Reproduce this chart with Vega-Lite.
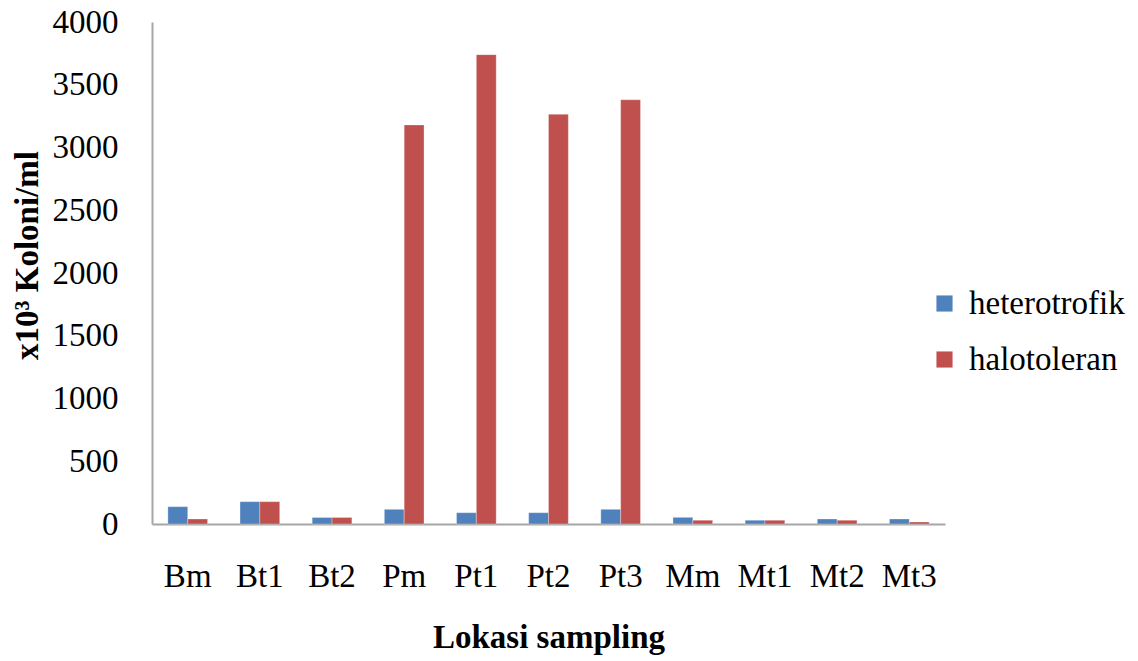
{
  "$schema": "https://vega.github.io/schema/vega-lite/v6.json",
  "width": 793,
  "height": 502,
  "autosize": {"type": "none"},
  "padding": {"left": 152, "top": 22, "right": 193, "bottom": 137},
  "background": "white",
  "config": {
    "view": {"stroke": null},
    "font": "Liberation Serif",
    "axis": {"labelFont": "Liberation Serif", "titleFont": "Liberation Serif", "labelColor": "#000", "titleColor": "#000", "domainColor": "#a6a6a6", "domainWidth": 2, "grid": false, "ticks": false},
    "legend": {"labelFont": "Liberation Serif, serif"}
  },
  "data": {
    "values": [
      {"lokasi": "Bm", "jenis": "heterotrofik", "nilai": 138},
      {"lokasi": "Bm", "jenis": "halotoleran", "nilai": 40},
      {"lokasi": "Bt1", "jenis": "heterotrofik", "nilai": 178},
      {"lokasi": "Bt1", "jenis": "halotoleran", "nilai": 178},
      {"lokasi": "Bt2", "jenis": "heterotrofik", "nilai": 52},
      {"lokasi": "Bt2", "jenis": "halotoleran", "nilai": 52},
      {"lokasi": "Pm", "jenis": "heterotrofik", "nilai": 117},
      {"lokasi": "Pm", "jenis": "halotoleran", "nilai": 3180},
      {"lokasi": "Pt1", "jenis": "heterotrofik", "nilai": 90},
      {"lokasi": "Pt1", "jenis": "halotoleran", "nilai": 3740},
      {"lokasi": "Pt2", "jenis": "heterotrofik", "nilai": 90},
      {"lokasi": "Pt2", "jenis": "halotoleran", "nilai": 3265},
      {"lokasi": "Pt3", "jenis": "heterotrofik", "nilai": 117},
      {"lokasi": "Pt3", "jenis": "halotoleran", "nilai": 3380},
      {"lokasi": "Mm", "jenis": "heterotrofik", "nilai": 53},
      {"lokasi": "Mm", "jenis": "halotoleran", "nilai": 30},
      {"lokasi": "Mt1", "jenis": "heterotrofik", "nilai": 30},
      {"lokasi": "Mt1", "jenis": "halotoleran", "nilai": 30},
      {"lokasi": "Mt2", "jenis": "heterotrofik", "nilai": 40},
      {"lokasi": "Mt2", "jenis": "halotoleran", "nilai": 30},
      {"lokasi": "Mt3", "jenis": "heterotrofik", "nilai": 40},
      {"lokasi": "Mt3", "jenis": "halotoleran", "nilai": 16}
    ]
  },
  "mark": {"type": "bar", "stroke": "white", "strokeWidth": 0.5, "strokeOpacity": 0.6},
  "encoding": {
    "x": {
      "field": "lokasi", "type": "nominal", "sort": null,
      "scale": {"paddingInner": 0.45, "paddingOuter": 0.22},
      "axis": {"labelAngle": 0, "labelFontSize": 33, "labelPadding": 36, "title": "Lokasi sampling", "titleFontSize": 33, "titleFontWeight": "bold", "titlePadding": 28}
    },
    "xOffset": {"field": "jenis", "type": "nominal", "sort": ["heterotrofik", "halotoleran"]},
    "y": {
      "field": "nilai", "type": "quantitative",
      "scale": {"domain": [0, 4000], "nice": false},
      "axis": {"values": [0, 500, 1000, 1500, 2000, 2500, 3000, 3500, 4000], "format": "d", "labelFontSize": 33, "labelPadding": 34, "title": "x10³ Koloni/ml", "titleFontSize": 33, "titleFontWeight": "bold", "titlePadding": 8, "titleY": 233}
    },
    "color": {
      "field": "jenis", "type": "nominal",
      "sort": ["heterotrofik", "halotoleran"],
      "scale": {"domain": ["heterotrofik", "halotoleran"], "range": ["#4f81bd", "#c0504d"]},
      "legend": {"title": null, "orient": "none", "legendX": 776, "legendY": 265, "labelFont": "Liberation Serif, serif", "labelFontSize": 33, "labelColor": "#000", "labelLimit": 300, "symbolType": "square", "symbolSize": 260, "symbolStrokeWidth": 0, "rowPadding": 22, "labelOffset": 8}
    }
  }
}
